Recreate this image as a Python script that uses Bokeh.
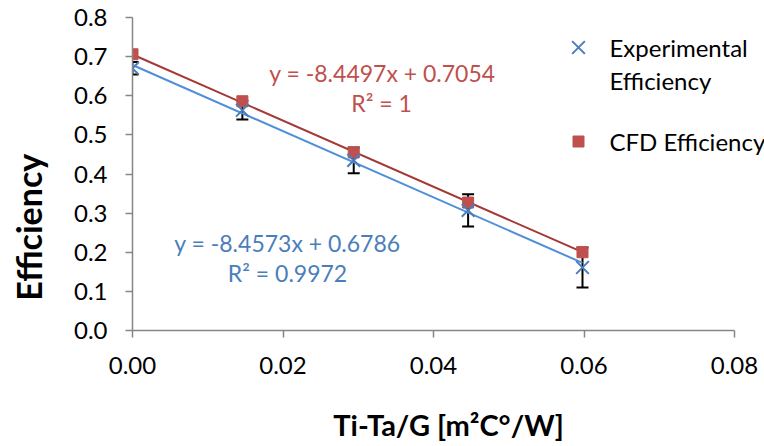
import numpy as np
from bokeh.plotting import figure
from bokeh.models import (ColumnDataSource, Whisker, TeeHead, Label,
                          Range1d, FixedTicker, NumeralTickFormatter)
from bokeh.embed import file_html
from bokeh.resources import INLINE

# ---- data ----
x_vals = [0.0, 0.0146, 0.0294, 0.0446, 0.0598]
exp_eff = [0.670, 0.563, 0.435, 0.307, 0.161]
exp_err = [0.016, 0.024, 0.033, 0.041, 0.051]
cfd_eff = [0.706, 0.586, 0.455, 0.327, 0.200]

exp_slope, exp_intercept, exp_r2 = -8.4573, 0.6786, "0.9972"
cfd_slope, cfd_intercept, cfd_r2 = -8.4497, 0.7054, "1"

x_ticks = [0.0, 0.02, 0.04, 0.06, 0.08]
y_ticks = [0.0, 0.1, 0.2, 0.3, 0.4, 0.5, 0.6, 0.7, 0.8]

FONT = "Lato"
BLUE_M = "#4A7EBB"
BLUE_L = "#4F8FDA"
RED_M = "#C0504D"
RED_L = "#A33835"
AXIS = "#868686"

W, H = 764, 446
LEFT, TOP, BOTTOM = 132, 17, 116
AXIS_RIGHT = 734  # pixel where the x axis ends in the reference
frame_w = W - LEFT
frame_h = H - TOP - BOTTOM
x_max = x_ticks[-1] * frame_w / (AXIS_RIGHT - LEFT)

p = figure(width=W, height=H, output_backend="svg", toolbar_location=None,
           x_range=Range1d(0, x_max), y_range=Range1d(0, y_ticks[-1]),
           min_border_left=LEFT, min_border_right=0, min_border_top=TOP,
           min_border_bottom=BOTTOM)
p.grid.visible = False
p.outline_line_color = None
p.background_fill_color = "white"
p.border_fill_color = "white"

# pixel-space ranges for the legend symbols
p.extra_x_ranges = {"px": Range1d(0, frame_w)}
p.extra_y_ranges = {"px": Range1d(0, frame_h)}

for ax in (p.xaxis[0], p.yaxis[0]):
    ax.axis_line_color = AXIS
    ax.axis_line_width = 1.5
    ax.major_tick_line_color = AXIS
    ax.major_tick_line_width = 1.5
    ax.major_tick_out = 7
    ax.major_tick_in = 0
    ax.minor_tick_line_color = None
    ax.major_label_text_font = FONT
    ax.major_label_text_font_size = "24px"
    ax.major_label_text_color = "black"
    ax.axis_label_text_font = FONT
    ax.axis_label_text_font_style = "bold"
    ax.axis_label_text_color = "black"

p.xaxis.bounds = (x_ticks[0], x_ticks[-1])
p.xaxis.ticker = FixedTicker(ticks=x_ticks)
p.yaxis.ticker = FixedTicker(ticks=y_ticks)
p.xaxis.formatter = NumeralTickFormatter(format="0.00")
p.yaxis.formatter = NumeralTickFormatter(format="0.0")
p.xaxis.major_label_standoff = 19
p.yaxis.major_label_standoff = 18

p.xaxis.axis_label = "Ti-Ta/G [m²C°/W]"
p.xaxis.axis_label_text_font_size = "29px"
p.xaxis.axis_label_standoff = 30

# y title (non-breaking spaces shift it down along the axis like the reference)
p.yaxis.axis_label = "Efficiency" + "\u00a0" * 13
p.yaxis.axis_label_text_font_size = "34px"
p.yaxis.axis_label_standoff = 22

# trend lines from fit coefficients
x_end = [x_vals[0], x_vals[-1]]
p.line(x_end, [cfd_slope * x + cfd_intercept for x in x_end], line_color=RED_L, line_width=2)
p.line(x_end, [exp_slope * x + exp_intercept for x in x_end], line_color=BLUE_L, line_width=2)

src = ColumnDataSource(dict(x=x_vals, exp=exp_eff, cfd=cfd_eff,
                            upper=[e + d for e, d in zip(exp_eff, exp_err)],
                            lower=[e - d for e, d in zip(exp_eff, exp_err)]))

p.scatter("x", "cfd", source=src, marker="square", size=11,
          fill_color=RED_M, line_color=RED_M)
p.scatter("x", "exp", source=src, marker="x", size=18,
          line_color=BLUE_M, line_width=2)

wh = Whisker(base="x", upper="upper", lower="lower", source=src,
             line_color="black", line_width=2,
             upper_head=TeeHead(size=12, line_color="black", line_width=2),
             lower_head=TeeHead(size=12, line_color="black", line_width=2))
p.add_layout(wh)

def lab(txt, x, y, color, size="23px", align="center"):
    p.add_layout(Label(x=x, y=y, x_units="screen", y_units="screen", text=txt,
                       text_font=FONT, text_font_size=size, text_color=color,
                       text_align=align, text_baseline="middle"))

# trend equations
lab(f"y = {cfd_slope}x + {cfd_intercept}", 250, 258, RED_M)
lab(f"R² = {cfd_r2}", 249, 228, RED_M)
lab(f"y = {exp_slope}x + {exp_intercept}", 155, 88, BLUE_M)
lab(f"R² = {exp_r2}", 155, 58, BLUE_M)

# legend (symbols in pixel space, labels as text)
p.scatter(x=[446], y=[283], marker="x", size=18, line_color=BLUE_M, line_width=2,
          x_range_name="px", y_range_name="px")
p.scatter(x=[446], y=[189], marker="square", size=11, fill_color=RED_M, line_color=RED_M,
          x_range_name="px", y_range_name="px")
lab("Experimental", 477, 283, "black", size="24px", align="left")
lab("Efficiency", 477, 250, "black", size="24px", align="left")
lab("CFD Efficiency", 477, 189, "black", size="24px", align="left")

open("out.html", "w").write(file_html(p, INLINE))
